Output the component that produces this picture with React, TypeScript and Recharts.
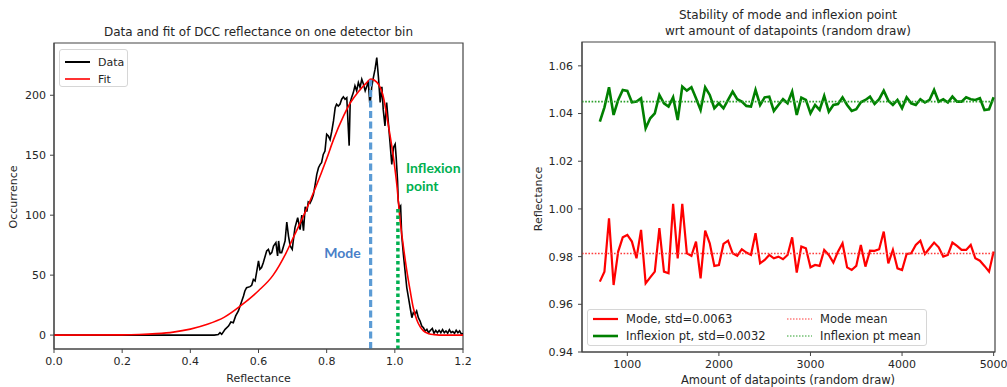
import React from 'react';
import { LineChart, Line, XAxis, YAxis, ReferenceLine, ReferenceArea } from 'recharts';

// ---------- Left chart: histogram data & fit ----------
const dataReflectance = [0, 0.47, 0.482, 0.487, 0.492, 0.502, 0.512, 0.519, 0.526, 0.533, 0.541, 0.546, 0.551, 0.556, 0.56, 0.565, 0.575, 0.58, 0.585, 0.59, 0.595, 0.6, 0.604, 0.609, 0.614, 0.624, 0.629, 0.634, 0.639, 0.644, 0.651, 0.656, 0.659, 0.663, 0.668, 0.678, 0.683, 0.688, 0.693, 0.699, 0.702, 0.707, 0.715, 0.722, 0.727, 0.732, 0.737, 0.742, 0.746, 0.751, 0.756, 0.761, 0.766, 0.771, 0.776, 0.781, 0.785, 0.79, 0.795, 0.8, 0.805, 0.81, 0.815, 0.82, 0.825, 0.829, 0.834, 0.839, 0.844, 0.849, 0.854, 0.859, 0.866, 0.869, 0.873, 0.878, 0.883, 0.888, 0.893, 0.898, 0.903, 0.908, 0.913, 0.918, 0.922, 0.927, 0.932, 0.937, 0.942, 0.947, 0.952, 0.957, 0.962, 0.966, 0.971, 0.976, 0.981, 0.986, 0.991, 0.996, 1.001, 1.004, 1.008, 1.01, 1.013, 1.017, 1.02, 1.025, 1.03, 1.035, 1.04, 1.045, 1.05, 1.054, 1.059, 1.064, 1.069, 1.074, 1.079, 1.084, 1.089, 1.094, 1.099, 1.104, 1.11, 1.115, 1.12, 1.125, 1.13, 1.135, 1.14, 1.145, 1.15, 1.155, 1.16, 1.165, 1.17, 1.175, 1.18, 1.185, 1.19, 1.195, 1.2];
const dataOccurrence = [0, 0, 0.5, 2, 0.6, 4.8, 7.5, 10.9, 10.3, 16, 20.1, 24.3, 28.5, 32.6, 36.8, 39.5, 40.4, 41.5, 46.4, 45.1, 53.4, 61.8, 54.9, 56.3, 60.4, 70.2, 71.5, 67.4, 68.8, 74.3, 77.1, 66, 78.5, 68.8, 68.8, 78.5, 94.3, 82.6, 74.3, 71.5, 78.5, 89.6, 97.9, 88, 100, 87, 107, 103, 111, 110, 113, 117, 125, 134, 139.6, 142.4, 143.8, 150.7, 153.5, 167.5, 166, 163, 170, 178.6, 189.7, 192.5, 191, 192.5, 196.7, 198.7, 196.7, 198, 158, 193.9, 198, 202, 207.8, 203.7, 210.6, 206.5, 213.4, 209.2, 203.7, 207.8, 212, 191, 206.5, 214.7, 221.8, 231.5, 214.7, 194, 207, 188, 174.5, 194, 177, 160, 142.4, 156.4, 159.2, 148, 128.5, 112, 106, 107.7, 84, 67.4, 53.5, 39.6, 31.2, 22.8, 14.5, 18.7, 17.3, 20.1, 14.5, 11.7, 7.5, 6.1, 3.4, 4.8, 2.0, 3.9, 5.6, 1.5, 3.9, 2, 4, 2, 4.5, 2, 3.5, 1.5, 4.5, 2, 3, 1.5, 4, 2, 3.5, 1, 1];

const fitReflectance = [0, 0.2, 0.25, 0.3, 0.35, 0.4, 0.45, 0.5, 0.55, 0.6, 0.643, 0.68, 0.7, 0.733, 0.766, 0.8, 0.82, 0.85, 0.87, 0.893, 0.9175, 0.93, 0.947, 0.966, 0.981, 0.996, 1.006, 1.015, 1.025, 1.035, 1.045, 1.054, 1.064, 1.074, 1.084, 1.1, 1.115, 1.13, 1.2];
const fitOccurrence = [0, 0.2, 0.5, 1.2, 2.5, 5, 9, 15, 25, 37, 50, 68, 80, 100, 122, 147, 163, 183, 194, 203, 210.6, 213.5, 211, 199, 175, 148, 125, 97, 74, 54, 37, 23, 13, 7, 3.5, 1.2, 0.4, 0, 0];

const leftXTicks = [0, 0.2, 0.4, 0.6, 0.8, 1.0, 1.2];
const leftYTicks = [0, 50, 100, 150, 200];
const leftXDomain = [0, 1.2];
const leftYDomain = [-11.6, 243.6];

const MODE_X = 0.929;
const MODE_TOP = 213;
const INFLEXION_X = 1.009;
const INFLEXION_TOP = 106;

// ---------- Right chart: stability ----------
const datapointCounts = [700, 750, 800, 850, 900, 950, 1000, 1050, 1100, 1150, 1200, 1250, 1300, 1350, 1400, 1450, 1500, 1550, 1600, 1650, 1700, 1750, 1800, 1850, 1900, 1950, 2000, 2050, 2100, 2150, 2200, 2250, 2300, 2350, 2400, 2450, 2500, 2550, 2600, 2650, 2700, 2750, 2800, 2850, 2900, 2950, 3000, 3050, 3100, 3150, 3200, 3250, 3300, 3350, 3400, 3450, 3500, 3550, 3600, 3650, 3700, 3750, 3800, 3850, 3900, 3950, 4000, 4050, 4100, 4150, 4200, 4250, 4300, 4350, 4400, 4450, 4500, 4550, 4600, 4650, 4700, 4750, 4800, 4850, 4900, 4950, 5000];
const modeValues = [0.9695, 0.9737, 0.9961, 0.9681, 0.9821, 0.9881, 0.9891, 0.9863, 0.9793, 0.9912, 0.9688, 0.9713, 0.9737, 0.9919, 0.9737, 0.973, 1.0021, 0.9793, 1.0021, 0.9814, 0.9803, 0.9863, 0.9709, 0.9909, 0.9856, 0.9761, 0.9765, 0.9853, 0.9867, 0.9814, 0.9803, 0.9831, 0.9817, 0.9807, 0.9898, 0.9772, 0.9786, 0.9807, 0.9793, 0.98, 0.9789, 0.9807, 0.9881, 0.9733, 0.9842, 0.9835, 0.9755, 0.9765, 0.9761, 0.9828, 0.9807, 0.9775, 0.9821, 0.9856, 0.9755, 0.9744, 0.9761, 0.9849, 0.9758, 0.9825, 0.9824, 0.9831, 0.9905, 0.9772, 0.9828, 0.9751, 0.9744, 0.9811, 0.9814, 0.9849, 0.9867, 0.9811, 0.9835, 0.9859, 0.9839, 0.98, 0.9807, 0.9859, 0.9845, 0.9828, 0.9828, 0.9849, 0.9793, 0.9783, 0.9761, 0.9737, 0.9821];
const inflexionValues = [1.0366, 1.0426, 1.051, 1.0394, 1.0457, 1.0499, 1.0495, 1.0447, 1.045, 1.0464, 1.0338, 1.038, 1.0401, 1.0478, 1.0443, 1.0429, 1.0468, 1.0373, 1.0513, 1.0496, 1.051, 1.0464, 1.0415, 1.051, 1.0478, 1.0422, 1.0443, 1.0422, 1.0457, 1.0492, 1.046, 1.045, 1.0432, 1.0429, 1.0499, 1.0436, 1.0468, 1.0471, 1.0411, 1.0436, 1.046, 1.0443, 1.0492, 1.0394, 1.0467, 1.0457, 1.0401, 1.0436, 1.0415, 1.0474, 1.0408, 1.0436, 1.044, 1.0468, 1.0436, 1.0411, 1.0418, 1.0447, 1.0457, 1.0471, 1.044, 1.046, 1.0496, 1.0454, 1.0436, 1.0457, 1.0422, 1.0468, 1.0443, 1.0436, 1.046, 1.0446, 1.0457, 1.0499, 1.045, 1.046, 1.0446, 1.0471, 1.045, 1.045, 1.0468, 1.046, 1.0457, 1.0464, 1.0415, 1.0418, 1.0468];
const MODE_MEAN = 0.9813;
const INFLEXION_MEAN = 1.045;

const rightXTicks = [1000, 2000, 3000, 4000, 5000];
const rightYTicks = [0.94, 0.96, 0.98, 1.0, 1.02, 1.04, 1.06];
const rightXDomain = [505, 5015];
const rightYDomain = [0.94, 1.07];

const leftData = dataReflectance.map((x, i) => ({ x, y: dataOccurrence[i] }));
const leftFit = fitReflectance.map((x, i) => ({ x, y: fitOccurrence[i] }));
const rightData = datapointCounts.map((n, i) => ({ n, mode: modeValues[i], inflexion: inflexionValues[i] }));

const FONT = '"DejaVu Sans", sans-serif';
const TXT = '#262626';
const SPINE = '#444';
const tickStyle = { fontFamily: FONT, fontSize: 11, fill: TXT };

function Txt({ x, y, children, size = 11, rotate = false, style = {} }: any) {
  return (
    <div
      style={{
        position: 'absolute',
        left: x,
        top: y,
        transform: `translate(-50%, -50%)${rotate ? ' rotate(-90deg)' : ''}`,
        whiteSpace: 'nowrap',
        fontFamily: FONT,
        fontSize: size,
        color: TXT,
        lineHeight: 1,
        ...style,
      }}
    >
      {children}
    </div>
  );
}

function Sample({ color, width, dash }: any) {
  return (
    <svg width={25} height={6} style={{ display: 'block' }}>
      <line x1={0} y1={3} x2={25} y2={3} stroke={color} strokeWidth={width} strokeDasharray={dash} />
    </svg>
  );
}

const MEAN_RED = '#ff3b3b';
const MEAN_GREEN = '#2ca02c';

const leftLegend = [
  { label: 'Data', color: '#000', width: 2 },
  { label: 'Fit', color: '#ff0000', width: 1.6 },
];
const rightLegendCols = [
  [
    { label: 'Mode, std=0.0063', color: '#ff0000', width: 2.2 },
    { label: 'Inflexion pt, std=0.0032', color: '#008000', width: 2.6 },
  ],
  [
    { label: 'Mode mean', color: MEAN_RED, width: 1, dash: '1.5 1.5' },
    { label: 'Inflexion pt mean', color: MEAN_GREEN, width: 1, dash: '1.5 1.5' },
  ],
];

export default function App() {
  return (
    <div style={{ position: 'fixed', left: 0, top: 0, width: 1007, height: 387, background: '#fff', overflow: 'hidden' }}>
      {/* Left chart */}
      <div style={{ position: 'absolute', left: 0, top: 0 }}>
        <LineChart width={480} height={387} margin={{ top: 43, right: 17, bottom: 0, left: 0 }}>
          <XAxis
            dataKey="x"
            type="number"
            domain={leftXDomain}
            ticks={leftXTicks}
            allowDataOverflow
            height={38}
            tickSize={4}
            tickMargin={4}
            tick={tickStyle}
            tickFormatter={(v: number) => v.toFixed(1)}
            stroke={SPINE}
          />
          <YAxis
            type="number"
            domain={leftYDomain}
            ticks={leftYTicks}
            allowDataOverflow
            width={54}
            tickSize={4}
            tickMargin={4}
            tick={tickStyle}
            stroke={SPINE}
          />
          <ReferenceArea x1={leftXDomain[0]} x2={leftXDomain[1]} y1={leftYDomain[0]} y2={leftYDomain[1]} fill="none" stroke={SPINE} strokeWidth={1.2} />
          <Line data={leftData} dataKey="y" type="linear" stroke="#000" strokeWidth={1.6} dot={false} isAnimationActive={false} />
          <Line data={leftFit} dataKey="y" type="monotone" stroke="#ff0000" strokeWidth={1.6} dot={false} isAnimationActive={false} />
          <ReferenceLine
            segment={[{ x: MODE_X, y: leftYDomain[0] }, { x: MODE_X, y: MODE_TOP }]}
            stroke="#5b9bd5"
            strokeWidth={3.2}
            strokeDasharray="7 3.5"
          />
          <ReferenceLine
            segment={[{ x: INFLEXION_X, y: leftYDomain[0] }, { x: INFLEXION_X, y: INFLEXION_TOP }]}
            stroke="#00b050"
            strokeWidth={3.5}
            strokeDasharray="3.5 3"
          />
        </LineChart>
      </div>

      {/* Right chart */}
      <div style={{ position: 'absolute', left: 490, top: 0 }}>
        <LineChart width={517} height={387} margin={{ top: 42, right: 12, bottom: 0, left: 0 }}>
          <XAxis
            dataKey="n"
            type="number"
            domain={rightXDomain}
            ticks={rightXTicks}
            allowDataOverflow
            height={35}
            tickSize={4}
            tickMargin={4}
            tick={tickStyle}
            stroke={SPINE}
          />
          <YAxis
            type="number"
            domain={rightYDomain}
            ticks={rightYTicks}
            allowDataOverflow
            width={92}
            tickSize={4}
            tickMargin={5}
            tick={tickStyle}
            tickFormatter={(v: number) => v.toFixed(2)}
            stroke={SPINE}
          />
          <ReferenceArea x1={rightXDomain[0]} x2={rightXDomain[1]} y1={rightYDomain[0]} y2={rightYDomain[1]} fill="none" stroke={SPINE} strokeWidth={1.2} />
          <Line data={rightData} dataKey="mode" type="linear" stroke="#ff0000" strokeWidth={2.2} dot={false} isAnimationActive={false} />
          <Line data={rightData} dataKey="inflexion" type="linear" stroke="#008000" strokeWidth={2.6} dot={false} isAnimationActive={false} />
          <ReferenceLine y={MODE_MEAN} stroke={MEAN_RED} strokeWidth={1.6} strokeDasharray="1.6 1.6" ifOverflow="visible" />
          <ReferenceLine y={INFLEXION_MEAN} stroke={MEAN_GREEN} strokeWidth={1.6} strokeDasharray="1.6 1.6" ifOverflow="visible" />
        </LineChart>
      </div>

      {/* Left texts */}
      <Txt x={258.5} y={32} size={12}>Data and fit of DCC reflectance on one detector bin</Txt>
      <Txt x={258.5} y={378}>Reflectance</Txt>
      <Txt x={13} y={197} rotate>Occurrence</Txt>
      <Txt x={342.5} y={253} size={14} style={{ fontFamily: 'Lato, sans-serif', fontWeight: 700, color: '#4a7fc8' }}>Mode</Txt>
      <div style={{ position: 'absolute', left: 406, top: 159, fontFamily: 'Lato, sans-serif', fontWeight: 700, fontSize: 14, lineHeight: '18px', color: '#00b050' }}>
        Inflexion<br />point
      </div>

      {/* Left legend */}
      <div style={{ position: 'absolute', left: 59, top: 49, width: 69, height: 38, boxSizing: 'border-box', border: '1px solid #d6d6d6', borderRadius: 3, background: 'rgba(255,255,255,0.85)' }}>
        {leftLegend.map((e, i) => (
          <div key={e.label} style={{ position: 'absolute', left: 5, top: 6 + i * 17, display: 'flex', alignItems: 'center', height: 12 }}>
            <Sample color={e.color} width={e.width} />
            <span style={{ marginLeft: 8, fontFamily: FONT, fontSize: 11, color: TXT }}>{e.label}</span>
          </div>
        ))}
      </div>

      {/* Right texts */}
      <Txt x={788} y={15} size={12}>Stability of mode and inflexion point</Txt>
      <Txt x={788} y={31} size={12}>wrt amount of datapoints (random draw)</Txt>
      <Txt x={788} y={381} size={11.5}>Amount of datapoints (random draw)</Txt>
      <Txt x={538} y={199} rotate>Reflectance</Txt>

      {/* Right legend */}
      <div style={{ position: 'absolute', left: 587, top: 309, width: 340, height: 37, boxSizing: 'border-box', border: '1px solid #d6d6d6', borderRadius: 3, background: 'rgba(255,255,255,0.85)' }}>
        {rightLegendCols.map((col, c) =>
          col.map((e, r) => (
            <div key={e.label} style={{ position: 'absolute', left: c === 0 ? 5 : 199, top: 3 + r * 17, display: 'flex', alignItems: 'center', height: 12 }}>
              <Sample color={e.color} width={e.width} dash={e.dash} />
              <span style={{ marginLeft: 8, fontFamily: FONT, fontSize: 11.5, color: TXT }}>{e.label}</span>
            </div>
          ))
        )}
      </div>
    </div>
  );
}
